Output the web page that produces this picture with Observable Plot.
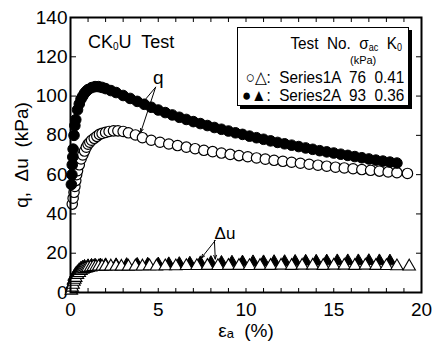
<!DOCTYPE html>
<html>
<head>
<meta charset="utf-8">
<script src="https://cdn.jsdelivr.net/npm/d3@7"></script>
<script src="https://cdn.jsdelivr.net/npm/@observablehq/plot@0.6"></script>
<style>
  body { margin: 0; background: #fff; }
  #wrap { position: relative; width: 433px; height: 344px; font-family: "Liberation Sans Narrow", "Liberation Sans", Arial, sans-serif; color: #000; }
  #wrap svg { position: absolute; left: 0; top: 0; }
  .ov { position: absolute; white-space: pre; line-height: 1; }
  #legend { position: absolute; left: 237px; top: 27px; width: 170px; height: 77px; border: 1px solid #000; box-shadow: 3px 3px 0 #000; background: #fff; }
</style>
</head>
<body>
<div id="wrap"></div>
<script>
// ---- data ----
const series = ["Series1A", "Series2A"];
const sigmaAc = [76, 93];
const k0 = [0.41, 0.36];

// q, Series1A (open circles)
const eps1q = [0.1,0.15,0.2,0.25,0.3,0.35,0.4,0.5,0.6,0.7,0.8,0.9,1.0,1.1,1.2,1.35,1.5,1.65,1.8,2.0,2.2,2.45,2.7,3.0,3.3,3.7,4.1,4.6,5.1,5.6,6.1,6.6,7.1,7.6,8.1,8.6,9.1,9.6,10.1,10.6,11.1,11.6,12.1,12.6,13.1,13.6,14.1,14.6,15.1,15.6,16.1,16.6,17.1,17.6,18.1,18.6,19.2];
const q1 = [45,48,51,54,57,60,62,65,68,70,72,74,75.5,76.5,77.5,78.5,79.5,80.5,81,81.5,82,82.3,82.3,82,81.3,80.2,78.8,77.5,76.5,75.6,74.8,74,73.2,72.4,71.7,71,70.3,69.7,69.1,68.5,67.9,67.3,66.8,66.3,65.8,65.3,64.8,64.3,63.8,63.4,63,62.6,62.2,61.8,61.4,61,60.6];

// q, Series2A (filled circles)
const eps2q = [0.05,0.08,0.1,0.13,0.15,0.2,0.25,0.3,0.4,0.5,0.6,0.7,0.8,0.9,1.0,1.2,1.4,1.6,1.8,2.0,2.3,2.6,3.0,3.4,3.8,4.2,4.6,5.0,5.4,5.8,6.2,6.6,7.0,7.4,7.8,8.2,8.6,9.0,9.4,9.8,10.2,10.6,11.0,11.4,11.8,12.2,12.6,13.0,13.4,13.8,14.2,14.6,15.0,15.4,15.8,16.2,16.6,17.0,17.4,17.8,18.2,18.6];
const q2 = [55,60,65,69,73,80,85,88,93,96,98.5,100,101.5,102.5,103.3,104.3,104.8,104.8,104.4,103.8,102.8,101.8,100.3,98.8,97.3,95.8,94.3,92.9,91.6,90.4,89.2,88.1,87,86,85,84,83.1,82.2,81.3,80.5,79.6,78.8,78,77.2,76.4,75.7,75,74.3,73.6,72.9,72.2,71.6,71,70.4,69.8,69.2,68.6,68,67.4,66.9,66.4,65.9];

// Δu, Series1A (open triangles)
const eps1u = [0.05,0.1,0.15,0.2,0.25,0.3,0.4,0.5,0.6,0.7,0.8,0.9,1.0,1.15,1.3,1.45,1.6,1.8,2.0,2.3,2.6,2.9,3.3,3.7,4.1,4.5,4.9,5.4,6.0,6.6,7.2,7.8,8.4,9.0,9.6,10.2,10.8,11.4,12.0,12.6,13.2,13.8,14.4,15.0,15.6,16.2,16.8,17.4,18.0,18.6,19.3];
const du1 = [1,2.5,4,5.5,6.5,7.5,9,10,11,11.6,12,12.3,12.6,12.8,13,13.1,13.2,13.2,13.3,13.3,13.3,13.2,13.2,13.3,13.3,13.4,13.3,13.4,13.4,13.5,13.5,13.6,13.5,13.6,13.6,13.5,13.6,13.6,13.7,13.6,13.7,13.7,13.6,13.7,13.7,13.6,13.7,13.6,13.5,13.4,13.3];

// Δu, Series2A (filled triangles)
const eps2u = [0.05,0.1,0.15,0.2,0.3,0.4,0.5,0.6,0.7,0.8,1.0,1.2,1.4,1.7,2.0,2.6,3.2,3.8,4.4,5.0,5.6,6.2,6.8,7.4,8.0,8.6,9.2,9.8,10.4,11.0,11.6,12.2,12.8,13.4,14.0,14.6,15.2,15.8,16.4,17.0,17.6,18.2];
const du2 = [2,4,6,8,9.5,10.5,11.5,12.3,12.8,13.2,13.5,13.7,13.8,13.9,14,14,14.1,14.2,14.3,14.4,14.5,14.6,14.8,15,15.1,15.2,15.3,15.4,15.5,15.5,15.6,15.6,15.7,15.8,15.8,15.9,16,16,16,16.1,16,15.9];

// tick values
const xMajor = [0,5,10,15,20];
const xMinor = d3.range(0,21,1);
const yMajor = [0,20,40,60,80,100,120,140];

const rows = (xs, ys) => xs.map((x, i) => ({x, y: ys[i]}));
const Q1 = rows(eps1q, q1), Q2 = rows(eps2q, q2), U1 = rows(eps1u, du1), U2 = rows(eps2u, du2);

// annotation anchors (data coordinates)
const qLabel = [{x: 5.0, y: 109, t: "q"}];
const qArrows = [{x1: 4.85, y1: 104.5, x2: 4.1, y2: 96.5}, {x1: 4.85, y1: 104.5, x2: 4.0, y2: 81.5}];
const uLabel = [{x: 8.8, y: 30, t: "Δu"}];
const uArrows = [{x1: 8.25, y1: 26.5, x2: 7.45, y2: 17.5}, {x1: 8.2, y1: 26.5, x2: 8.25, y2: 17}];

const font = "Liberation Sans Narrow, Liberation Sans, Arial, sans-serif";

const chart = Plot.plot({
  width: 433,
  height: 344,
  marginLeft: 70,
  marginRight: 12,
  marginTop: 17,
  marginBottom: 52,
  style: {fontFamily: font, background: "transparent", color: "#000"},
  x: {domain: [0, 20]},
  y: {domain: [0, 140]},
  marks: [
    // labels
    Plot.axisX({ticks: xMajor, tickSize: 0, tickPadding: 10, fontSize: 19, label: "εₐ  (%)", labelAnchor: "center", labelOffset: 44, labelArrow: "none"}),
    Plot.axisY({ticks: yMajor, tickSize: 0, tickPadding: 3, fontSize: 19, label: "q,  Δu  (kPa)", labelAnchor: "center", labelOffset: 56, labelArrow: "none"}),
    // inward ticks
    Plot.axisX({ticks: xMinor, tickSize: -4, tickFormat: () => "", label: null}),
    Plot.axisX({anchor: "top", ticks: xMinor, tickSize: -4, tickFormat: () => "", label: null}),
    Plot.axisY({ticks: yMajor, tickSize: -6, tickFormat: () => "", label: null}),
    Plot.axisY({anchor: "right", ticks: yMajor, tickSize: -6, tickFormat: () => "", label: null}),
    // data
    Plot.dot(U2, {x: "x", y: "y", symbol: "triangle", r: 4.6, fill: "black", stroke: "black", strokeWidth: 1}),
    Plot.dot(U1, {x: "x", y: "y", symbol: "triangle", r: 4.6, fill: "white", stroke: "black", strokeWidth: 1.1}),
    Plot.dot(Q1, {x: "x", y: "y", r: 5.2, fill: "white", stroke: "black", strokeWidth: 1.2}),
    Plot.dot(Q2, {x: "x", y: "y", r: 5.3, fill: "black", stroke: "black", strokeWidth: 1}),
    // annotations
    Plot.arrow(qArrows, {x1: "x1", y1: "y1", x2: "x2", y2: "y2", stroke: "black", strokeWidth: 1, headLength: 6, headAngle: 40}),
    Plot.text(qLabel, {x: "x", y: "y", text: "t", fontSize: 19}),
    Plot.arrow(uArrows, {x1: "x1", y1: "y1", x2: "x2", y2: "y2", stroke: "black", strokeWidth: 1, headLength: 6, headAngle: 40}),
    Plot.text(uLabel, {x: "x", y: "y", text: "t", fontSize: 17}),
    Plot.frame({stroke: "black", strokeWidth: 2})
  ]
});

const wrap = document.getElementById("wrap");
wrap.appendChild(chart);

function ov(html, css) {
  const d = document.createElement("div");
  d.className = "ov";
  d.innerHTML = html;
  Object.assign(d.style, css);
  wrap.appendChild(d);
  return d;
}
ov('CK<span style="font-size:10px;position:relative;top:2px">0</span>U  Test', {left: "88px", top: "33px", fontSize: "18px"});

const lg = document.createElement("div");
lg.id = "legend";
wrap.appendChild(lg);
function lov(html, css) {
  const d = document.createElement("div");
  d.className = "ov";
  d.innerHTML = html;
  Object.assign(d.style, css);
  lg.appendChild(d);
  return d;
}
const sub = s => `<span style="font-size:10px;position:relative;top:2px">${s}</span>`;
const squeeze = {transform: "scaleX(0.9)", transformOrigin: "right center"};
lov(`Test  No.  σ${sub("ac")}  K${sub("0")}`, Object.assign({right: "6px", top: "7px", fontSize: "17px"}, squeeze));
lov("(kPa)", {left: "112px", top: "27px", fontSize: "11px"});
lov(`○△:  ${series[0]}  ${sigmaAc[0]}  ${k0[0].toFixed(2)}`, Object.assign({right: "4px", top: "41px", fontSize: "17px"}, squeeze));
lov(`●▲:  ${series[1]}  ${sigmaAc[1]}  ${k0[1].toFixed(2)}`, Object.assign({right: "4px", top: "59px", fontSize: "17px"}, squeeze));
</script>
</body>
</html>
